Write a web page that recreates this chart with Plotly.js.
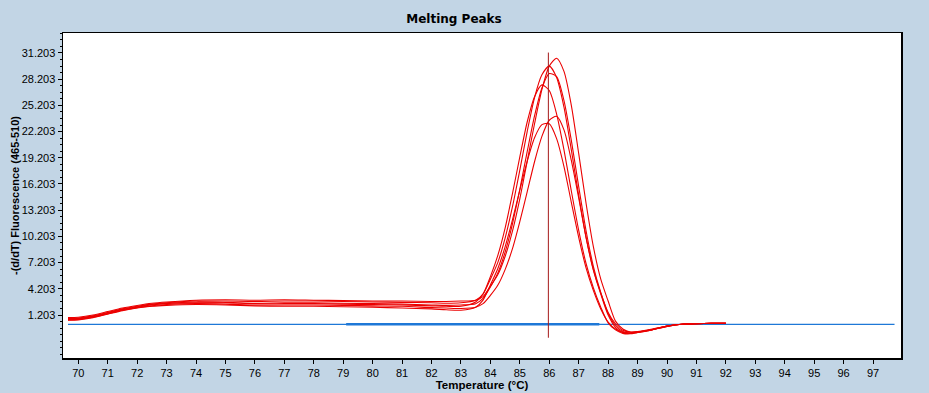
<!DOCTYPE html>
<html>
<head>
<meta charset="utf-8">
<script src="https://cdn.plot.ly/plotly-3.0.1.min.js"></script>
<style>html,body{margin:0;padding:0;background:rgb(194,213,229);}#chart{width:929px;height:393px;}</style>
</head>
<body>
<div id="chart"></div>
<script>
// Temperature grid (°C)
const temperature = [69.65, 70, 70.5, 71, 71.5, 72, 72.5, 73, 74, 75, 76, 77, 78, 79, 80, 81, 82, 82.5, 83,
  83.5, 83.75, 84, 84.25, 84.5, 84.75, 85, 85.25, 85.5, 85.75, 86, 86.25, 86.5, 86.75, 87, 87.25, 87.5, 87.75, 88,
  88.25, 88.5, 88.75, 89, 89.5, 90, 90.5, 91, 91.5, 92];

// -(d/dT) Fluorescence (465-510) for each sample
const sampleA = [0.9, 0.95, 1.2, 1.6, 2.0, 2.3, 2.55, 2.7, 2.9, 2.95, 2.9, 2.95, 2.9, 2.85, 2.8, 2.8, 2.75, 2.75, 2.8,
  2.9, 3.3, 4.5, 5.8, 7.9, 10.8, 14.5, 18.8, 23.1, 27.0, 29.7, 30.6, 29.1, 25.2, 19.7, 14.0, 9.0, 5.3, 2.8,
  0.5, -0.4, -0.75, -0.75, -0.45, -0.1, 0.15, 0.22, 0.25, 0.25];
const sampleB = [0.8, 0.85, 1.1, 1.5, 1.9, 2.2, 2.45, 2.6, 2.8, 2.8, 2.75, 2.8, 2.8, 2.75, 2.7, 2.65, 2.6, 2.55, 2.6,
  2.9, 3.6, 5.3, 7.2, 10.0, 13.6, 17.8, 22.2, 26.1, 28.7, 29.7, 28.4, 25.0, 20.1, 14.9, 10.1, 6.3, 3.6, 1.2,
  -0.2, -0.8, -0.9, -0.8, -0.5, -0.1, 0.15, 0.22, 0.25, 0.25];
const sampleC = [0.75, 0.8, 1.05, 1.45, 1.85, 2.15, 2.4, 2.55, 2.7, 2.65, 2.55, 2.6, 2.6, 2.55, 2.5, 2.45, 2.35, 2.3, 2.35,
  2.5, 3.1, 4.4, 6.0, 8.4, 11.65, 15.6, 19.9, 24.0, 27.2, 28.85, 28.5, 25.75, 21.2, 15.9, 10.85, 6.75, 3.8, 1.4,
  0.0, -0.7, -0.85, -0.75, -0.45, -0.05, 0.15, 0.22, 0.25, 0.25];
const sampleD = [0.7, 0.75, 1.0, 1.4, 1.8, 2.1, 2.35, 2.5, 2.6, 2.6, 2.5, 2.5, 2.5, 2.45, 2.4, 2.35, 2.25, 2.2, 2.2,
  2.7, 3.6, 5.6, 8.0, 11.15, 15.1, 19.3, 23.3, 26.2, 27.55, 26.9, 24.2, 20.1, 15.4, 10.9, 7.1, 4.3, 2.1, 0.3,
  -0.5, -0.9, -0.95, -0.8, -0.5, -0.1, 0.15, 0.22, 0.25, 0.25];
const sampleE = [0.65, 0.7, 0.95, 1.35, 1.75, 2.05, 2.25, 2.4, 2.5, 2.45, 2.35, 2.35, 2.35, 2.3, 2.25, 2.2, 2.05, 2.0, 1.95,
  2.1, 2.5, 3.45, 4.6, 6.4, 8.8, 11.9, 15.3, 18.75, 21.65, 23.5, 23.95, 22.4, 18.9, 14.6, 10.1, 6.4, 3.7, 1.5,
  0.2, -0.55, -0.75, -0.7, -0.4, -0.05, 0.15, 0.22, 0.25, 0.25];
const sampleF = [0.6, 0.65, 0.9, 1.3, 1.7, 2.0, 2.2, 2.3, 2.4, 2.35, 2.25, 2.2, 2.2, 2.15, 2.1, 2.0, 1.9, 1.8, 1.75,
  2.1, 2.9, 4.65, 6.5, 9.0, 12.1, 15.5, 18.8, 21.5, 23.0, 23.1, 21.4, 18.2, 14.1, 10.1, 6.6, 4.0, 1.9, 0.4,
  -0.4, -0.8, -0.85, -0.75, -0.45, -0.05, 0.15, 0.22, 0.25, 0.25];
const samples = [sampleA, sampleB, sampleC, sampleD, sampleE, sampleF];

// Threshold / baseline line and the peak marker
const baselineX = [69.65, 97.73];
const baselineY = [0.14, 0.14];
const activeX = [79.1, 87.7];
const activeY = [0.14, 0.14];
const peakMarkerX = [85.97, 85.97];
const peakMarkerY = [-1.4, 31.25];

// Axis ticks
const yTickVals = [1.203, 4.203, 7.203, 10.203, 13.203, 16.203, 19.203, 22.203, 25.203, 28.203, 31.203];
const yTickText = ['1.203', '4.203', '7.203', '10.203', '13.203', '16.203', '19.203', '22.203', '25.203', '28.203', '31.203'];
const xTickVals = [70, 71, 72, 73, 74, 75, 76, 77, 78, 79, 80, 81, 82, 83, 84, 85, 86, 87, 88, 89, 90, 91, 92, 93, 94, 95, 96, 97];

const traces = [
  {x: baselineX, y: baselineY, mode: 'lines', line: {color: 'rgb(30,120,215)', width: 1.3}, hoverinfo: 'skip'},
  {x: activeX, y: activeY, mode: 'lines', line: {color: 'rgb(30,120,215)', width: 2.5}, hoverinfo: 'skip'}
];
samples.forEach(s => traces.push({
  x: temperature, y: s, mode: 'lines',
  line: {color: 'rgb(235,0,0)', width: 1.1, shape: 'spline', smoothing: 0.7},
  hoverinfo: 'skip'
}));
traces.push({x: peakMarkerX, y: peakMarkerY, mode: 'lines', line: {color: 'rgb(165,25,25)', width: 1}, hoverinfo: 'skip'});

const tickFont = {family: 'Liberation Sans, Arial, sans-serif', size: 11, color: '#000'};
const layout = {
  width: 929, height: 393,
  paper_bgcolor: 'rgb(194,213,229)',
  plot_bgcolor: '#ffffff',
  margin: {l: 63, r: 28, t: 33, b: 35},
  showlegend: false,
  title: {
    text: 'Melting Peaks',
    font: {family: 'DejaVu Sans, sans-serif', size: 12, weight: 'bold', color: '#000'},
    x: 454 / 929, xanchor: 'center', xref: 'container',
    y: 1 - 19 / 393, yanchor: 'middle', yref: 'container'
  },
  xaxis: {
    range: [69.48, 97.95],
    tickmode: 'array', tickvals: xTickVals,
    ticks: 'outside', ticklen: 4, tickcolor: '#000', tickwidth: 1,
    tickfont: tickFont,
    showgrid: false, zeroline: false,
    showline: true, mirror: true, linecolor: '#000', linewidth: 1.5,
    title: {text: 'Temperature (°C)', font: {family: 'Liberation Sans, Arial, sans-serif', size: 11.5, weight: 'bold', color: '#000'}, standoff: 0}
  },
  yaxis: {
    range: [-3.72, 33.49],
    tickmode: 'array', tickvals: yTickVals, ticktext: yTickText,
    ticks: 'outside', ticklen: 4, tickcolor: '#000', tickwidth: 1,
    minor: {dtick: 0.75, tick0: 1.203, ticks: 'outside', ticklen: 2, tickcolor: '#000', showgrid: false},
    tickfont: tickFont,
    showgrid: false, zeroline: false,
    showline: true, mirror: true, linecolor: '#000', linewidth: 1.5,
    title: {text: '-(d/dT) Fluorescence (465-510)', font: {family: 'Liberation Sans, Arial, sans-serif', size: 11, weight: 'bold', color: '#000'}, standoff: 0}
  }
};

Plotly.newPlot('chart', traces, layout, {staticPlot: true, displayModeBar: false});
</script>
</body>
</html>
